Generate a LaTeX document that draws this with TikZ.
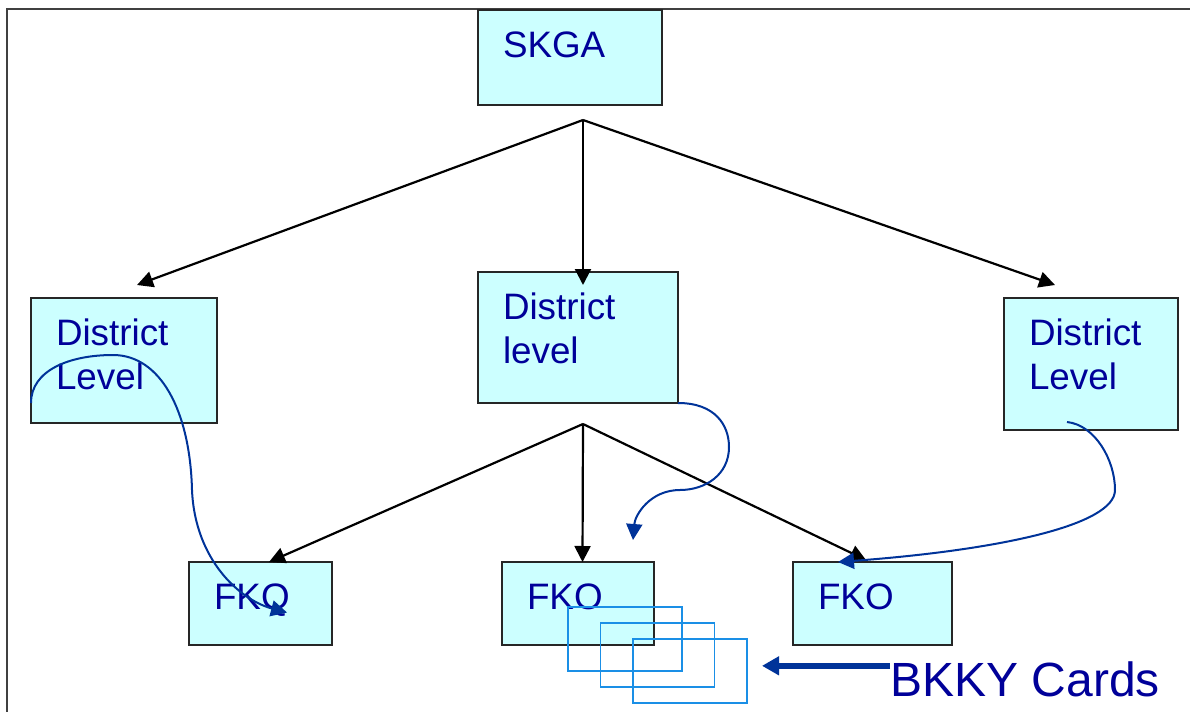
\documentclass[tikz,border=0pt]{standalone}
\usepackage{fontspec}
\setmainfont{Liberation Sans}
\usetikzlibrary{arrows.meta}
\definecolor{boxfill}{HTML}{CCFFFF}
\definecolor{navy}{HTML}{000099}
\definecolor{flowblue}{HTML}{003399}
\definecolor{cardblue}{HTML}{1A8FE6}
\tikzset {>={Triangle[length=8pt,width=8pt]},
  office/.style={draw=black!85, line width=1pt, fill=boxfill, anchor=north west,
    outer sep=0pt, inner xsep=12.5pt, inner ysep=0pt, align=left, text=navy,
    font=\fontsize{18.4}{22}\selectfont, text height=23.5pt},
  link/.style={->, line width=1.1pt},
  flow/.style={-{Triangle[length=8pt,width=8pt]}, draw=flowblue, line width=1pt},
  bigarrow/.style={-{Triangle[length=8.5pt,width=9pt]}, draw=flowblue, line width=2.8pt},
  cardbox/.style={draw=cardblue, line width=0.8pt, anchor=north west, outer sep=0pt,
    inner sep=0pt, minimum width=57pt, minimum height=32pt}
}

\begin{document}
\begin{tikzpicture}[x=0.5pt,y=-0.5pt]
\useasboundingbox (0,0) rectangle (1190,712);
\draw[black!75, line width=1pt] (7,712) -- (7,9) -- (1190,9);

\node[office, text width=67pt, text depth=24pt] (skga) at (478,10) {SKGA};
\node[office, text width=68pt, text depth=39pt] (dl) at (31,298) {District\\Level};
\node[office, text width=75pt, text depth=42pt] (dm) at (478,272) {District\\level};
\node[office, text width=62pt, text depth=42.5pt] (dr) at (1004,298) {District\\Level};
\node[office, text width=46.5pt, text depth=18pt] (fkq) at (189,562) {FKQ};
\node[office, text width=51pt, text depth=18pt] (fkom) at (502,562) {FKO};
\node[office, text width=54.5pt, text depth=18pt] (fkor) at (793,562) {FKO};

% tree lines
\coordinate (top) at (583,120);
\coordinate (mid) at (583,424);
\draw[link] (top) -- ([shift={(6.5pt,6.5pt)}]dl.north);
\draw[link] (top) -- ([shift={(2.5pt,-6.5pt)}]dm.north);
\draw[link] (top) -- ([shift={(-18pt,6.5pt)}]dr.north);
\draw[link] (mid) -- ([xshift=4.25pt]fkq.north);
\draw[link] (mid) -- ([xshift=2.25pt]fkom.north);
\draw[link] (mid) -- ([shift={(-3.25pt,1pt)}]fkor.north);

% card flow
\draw[flow] ([yshift=10pt]dl.south west) .. controls (31,370) and (70,355) .. (113,355)
  .. controls (160,355) and (190,410) .. (192,490)
  .. controls (195,560) and (240,600) .. ([shift={(13.25pt,-4.5pt)}]fkq.center);
\coordinate (drop) at (633,540);
\draw[flow] (dm.south east) .. controls (715,403) and (729,425) .. (729,447)
  .. controls (729,475) and (705,490) .. (680,490)
  .. controls (650,490) and (635,515) .. (drop);
\draw[flow] ([shift={(-12pt,4pt)}]dr.south) .. controls (1095,425) and (1115,460) .. (1115,490)
  .. controls (1115,525) and (1000,550) .. ([xshift=-17.25pt]fkor.north);

\foreach \i in {1,2,3}
  \node[cardbox] (card\i) at ({535.5+32.5*\i},{591+16*\i}) {};
\node[text=navy, font=\fontsize{24}{28}\selectfont, inner sep=0pt, anchor=base west] (bkky) at (890,696) {BKKY Cards};
\draw[bigarrow] ([yshift=-2.5pt]bkky.north west) -- ++(-64pt,0);
\end{tikzpicture}
\end{document}
